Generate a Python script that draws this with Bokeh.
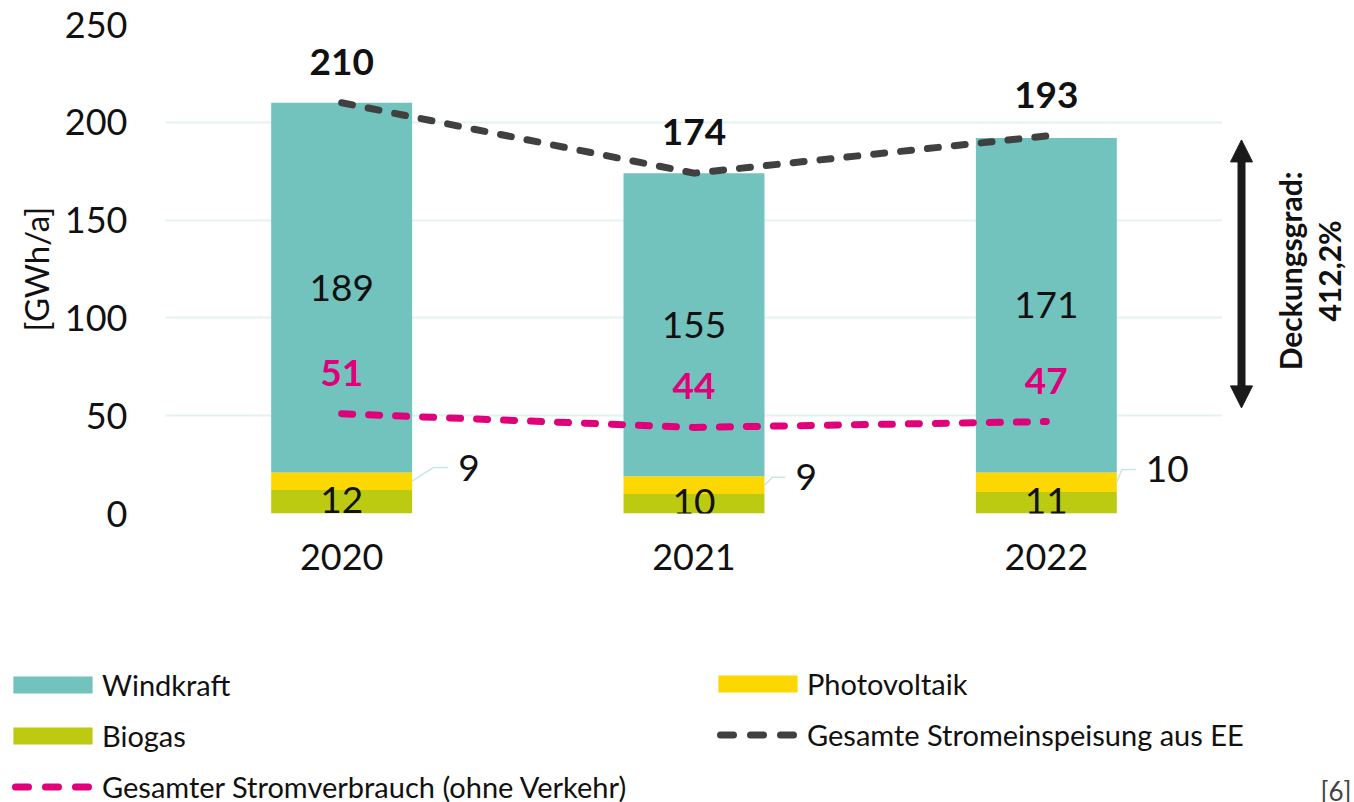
import math
from bokeh.plotting import figure
from bokeh.layouts import column, row
from bokeh.models import (ColumnDataSource, Label, Arrow, NormalHead, Legend,
                          LegendItem, FixedTicker, Range1d)
from bokeh.core.properties import value
from bokeh.embed import file_html
from bokeh.resources import INLINE

# ---------------- data ----------------
years = ["2020", "2021", "2022"]
biogas = [12, 10, 11]
photovoltaik = [9, 9, 10]
windkraft = [189, 155, 171]
einspeisung = [210, 174, 193]      # Gesamte Stromeinspeisung aus EE
verbrauch = [51, 44, 47]           # Gesamter Stromverbrauch (ohne Verkehr)
deckungsgrad_text = "Deckungsgrad:\n412,2%"
arrow_span = [54, 191]             # arrow from consumption to supply (2022)
y_ticks = [0, 50, 100, 150, 200, 250]
source_note = "[6]"

# ---------------- style ----------------
FONT = "Lato"
C_WIND = "#72c2be"
C_PV = "#fcd800"
C_BIO = "#bccb12"
C_DARK = "#404040"
C_PINK = "#e0007a"
C_TEXT = "#111111"
C_GRID = "#e4f2f2"
FS = "36px"
FS_IN = "37px"
DASH = "11 16"
LEG_DASH = "13 17"

y_range = Range1d(0, 250)

# ---------------- main chart ----------------
p = figure(width=1222, height=600, x_range=years, y_range=y_range,
           output_backend="svg", toolbar_location=None,
           min_border_left=165, min_border_right=0,
           min_border_top=24, min_border_bottom=87)
p.outline_line_color = None

src = ColumnDataSource(dict(years=years, biogas=biogas,
                            photovoltaik=photovoltaik, windkraft=windkraft))
bars = p.vbar_stack(["biogas", "photovoltaik", "windkraft"], x="years",
                    width=0.4, color=[C_BIO, C_PV, C_WIND], line_color=None,
                    source=src)

p.line(years, einspeisung, line_color=C_DARK, line_width=7,
       line_dash=DASH, line_cap="round")
p.line(years, verbrauch, line_color=C_PINK, line_width=7,
       line_dash=DASH, line_cap="round")

wind_mid = [b + v + w / 2 for b, v, w in zip(biogas, photovoltaik, windkraft)]
bio_mid = [b / 2 for b in biogas]
p.text(x=years, y=wind_mid, text=[str(v) for v in windkraft],
       text_font=value(FONT), text_font_size=FS_IN, text_color=C_TEXT,
       text_align="center", text_baseline="middle")
p.text(x=years, y=bio_mid, text=[str(v) for v in biogas],
       text_font=value(FONT), text_font_size=FS_IN, text_color=C_TEXT,
       text_align="center", text_baseline="middle", y_offset=-2)
p.text(x=years, y=einspeisung, text=[str(v) for v in einspeisung],
       text_font=value(FONT), text_font_size=FS_IN, text_font_style="bold",
       text_color=C_TEXT, text_align="center", text_baseline="middle",
       y_offset=-41)
p.text(x=years, y=verbrauch, text=[str(v) for v in verbrauch],
       text_font=value(FONT), text_font_size=FS_IN, text_font_style="bold",
       text_color=C_PINK, text_align="center", text_baseline="middle",
       y_offset=-41)

# PV labels with leader lines
px_per_cat = 1057 / 3.0
pv_label_y = [23.5, 18.5, 22.5]
diag_px = [21, 8, 5]
flat_px = [15, 13, 14]
xs, ys, lx = [], [], []
for i in range(3):
    x0 = i + 0.5 + 0.2
    y0 = biogas[i] + photovoltaik[i] / 2
    x1 = x0 + diag_px[i] / px_per_cat
    x2 = x1 + flat_px[i] / px_per_cat
    xs.append([x0, x1, x2])
    ys.append([y0, pv_label_y[i], pv_label_y[i]])
    lx.append(x2 + 10 / px_per_cat)
p.multi_line(xs, ys, line_color="#c6e7e5", line_width=1.5)
p.text(x=lx, y=pv_label_y, text=[str(v) for v in photovoltaik],
       text_font=value(FONT), text_font_size=FS_IN, text_color=C_TEXT,
       text_align="left", text_baseline="middle")

p.yaxis.ticker = FixedTicker(ticks=y_ticks)
p.yaxis.axis_label = "[GWh/a]"
p.yaxis.axis_label_text_font = FONT
p.yaxis.axis_label_text_font_style = "normal"
p.yaxis.axis_label_text_font_size = "33px"
p.yaxis.axis_label_text_color = C_TEXT
p.yaxis.axis_label_standoff = 6
for ax_ in (p.xaxis, p.yaxis):
    ax_.axis_line_color = None
    ax_.major_tick_line_color = None
    ax_.minor_tick_line_color = None
    ax_.major_label_text_font = FONT
    ax_.major_label_text_font_size = FS
    ax_.major_label_text_color = C_TEXT
p.yaxis.major_label_standoff = 32
p.xaxis.major_label_standoff = 24
p.xgrid.grid_line_color = None
p.ygrid.grid_line_color = C_GRID
p.ygrid.grid_line_width = 2

# ---------------- side panel: Deckungsgrad ----------------
side = figure(width=132, height=600, x_range=Range1d(0, 132), y_range=y_range,
              output_backend="svg", toolbar_location=None,
              x_axis_type=None, y_axis_type=None,
              min_border_left=0, min_border_right=0,
              min_border_top=24, min_border_bottom=87)
side.outline_line_color = None
side.add_layout(Arrow(x_start=19, y_start=arrow_span[0], x_end=19, y_end=arrow_span[1],
                      line_width=8, line_color="#1a1a1a",
                      start=NormalHead(size=22, fill_color="#1a1a1a", line_color="#1a1a1a"),
                      end=NormalHead(size=22, fill_color="#1a1a1a", line_color="#1a1a1a")))
side.add_layout(Label(x=87, y=124, text=deckungsgrad_text,
                      angle=math.pi / 2, text_align="center", text_baseline="middle",
                      text_font=FONT, text_font_style="bold", text_font_size="30px",
                      text_color=C_TEXT, text_line_height=1.1))

# ---------------- legend panel ----------------
leg = figure(width=1354, height=202, x_range=Range1d(0, 1), y_range=Range1d(0, 1),
             output_backend="svg", toolbar_location=None,
             x_axis_type=None, y_axis_type=None,
             min_border_left=0, min_border_right=0,
             min_border_top=0, min_border_bottom=0)
leg.outline_line_color = None
# proxy renderers placed outside the visible range (only their legend glyphs show)
r_wind = leg.vbar(x=[5], top=[5], bottom=[4], width=0.1, fill_color=C_WIND, line_color=None)
r_pv = leg.vbar(x=[5], top=[5], bottom=[4], width=0.1, fill_color=C_PV, line_color=None)
r_bio = leg.vbar(x=[5], top=[5], bottom=[4], width=0.1, fill_color=C_BIO, line_color=None)
r_dark = leg.line(x=[5, 6], y=[5, 5], line_color=C_DARK, line_width=7,
                  line_dash=LEG_DASH, line_dash_offset=18, line_cap="round")
r_pink = leg.line(x=[5, 6], y=[5, 5], line_color=C_PINK, line_width=7,
                  line_dash=LEG_DASH, line_dash_offset=18, line_cap="round")

leg_common = dict(orientation="vertical", glyph_width=99, glyph_height=21,
                  label_standoff=0, spacing=16, padding=0, margin=0,
                  border_line_color=None, background_fill_alpha=0,
                  label_text_font=FONT, label_text_font_size="29px",
                  label_text_color=C_TEXT, label_height=21)
leg1 = Legend(items=[LegendItem(label="Windkraft", renderers=[r_wind]),
                     LegendItem(label="Biogas", renderers=[r_bio]),
                     LegendItem(label="Gesamter Stromverbrauch (ohne Verkehr)",
                                renderers=[r_pink])],
              location=(3, -2), **leg_common)
leg2 = Legend(items=[LegendItem(label="Photovoltaik", renderers=[r_pv]),
                     LegendItem(label="Gesamte Stromeinspeisung aus EE",
                                renderers=[r_dark])],
              location=(708, 50), **leg_common)
leg.add_layout(leg1)
leg.add_layout(leg2)
leg.add_layout(Label(x=1320, y=28, x_units="screen", y_units="screen", text=source_note,
                     text_baseline="top", text_font=FONT, text_font_size="26px",
                     text_color="#444444"))

layout = column(row(p, side), leg)
open("out.html", "w").write(file_html(layout, INLINE))
